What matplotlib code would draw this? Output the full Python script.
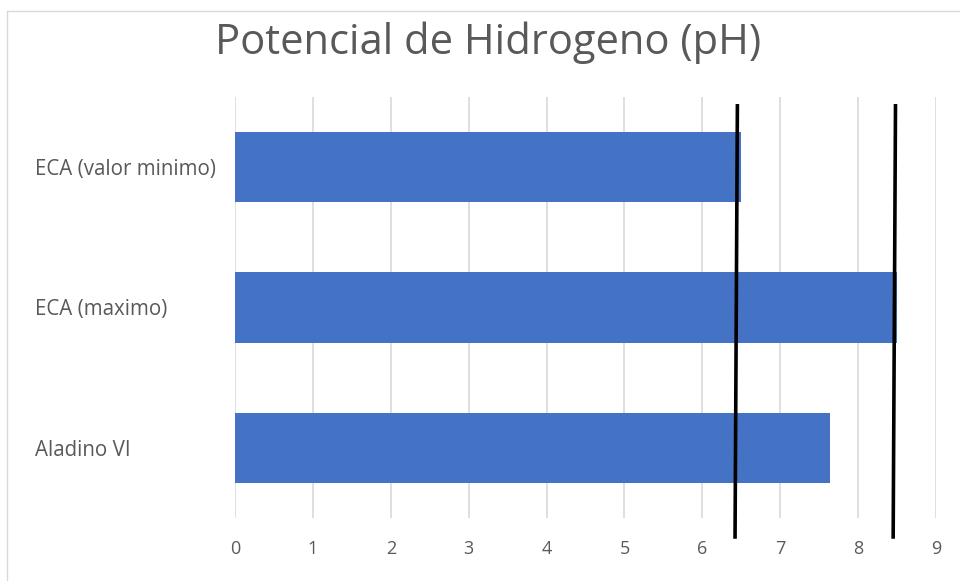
import matplotlib.pyplot as plt
from matplotlib.lines import Line2D
from matplotlib.transforms import blended_transform_factory

# pH per sample
categories = ["ECA (valor minimo)", "ECA (maximo)", "Aladino VI"]
ph_values = [6.5, 8.5, 7.64]

# hand-drawn limit markers (x at top end, x at bottom end)
limit_top = [6.45, 8.48]
limit_bottom = [6.42, 8.45]

x_ticks = list(range(0, 10))

plt.rcParams['font.family'] = ['Open Sans', 'DejaVu Sans']

fig = plt.figure(figsize=(9.6, 5.81), dpi=100)
ax = fig.add_axes([235 / 960, 1 - 518 / 581, 701 / 960, 421 / 581])

pos = list(range(len(categories)))
ax.barh(pos, ph_values, height=0.5, color='#4472C4', zorder=2)
ax.set_ylim(len(categories) - 0.5, -0.5)
ax.set_xlim(0, 9)

ax.set_xticks(x_ticks)
ax.set_xticklabels([str(t) for t in x_ticks])
ax.set_yticks(pos)
ax.set_yticklabels(categories, ha='left')
ax.tick_params(axis='x', length=0, pad=16, labelsize=13, labelcolor='#595959')
ax.tick_params(axis='y', length=0, pad=144, labelsize=14.8, labelcolor='#595959')

ax.grid(axis='x', color='#d9d9d9', linewidth=1.2, zorder=0)
for s in ax.spines.values():
    s.set_visible(False)

trans = blended_transform_factory(ax.transData, ax.transAxes)
for xt, xb in zip(limit_top, limit_bottom):
    ax.add_line(Line2D([xt, xb], [0.979, -0.045], transform=trans,
                       color='black', linewidth=2.6, clip_on=False, zorder=5))

fig.text(488 / 960, 1 - 43 / 581, "Potencial de Hidrogeno (pH)", ha='center',
         va='center', fontsize=30, color='#595959')

# chart frame edges
fig.add_artist(Line2D([7 / 960, 1], [1 - 11 / 581, 1 - 11 / 581],
                      transform=fig.transFigure, color='#d9d9d9', linewidth=1))
fig.add_artist(Line2D([7 / 960, 7 / 960], [0, 1 - 11 / 581],
                      transform=fig.transFigure, color='#d9d9d9', linewidth=1))

fig.savefig('out.png', dpi=100)
